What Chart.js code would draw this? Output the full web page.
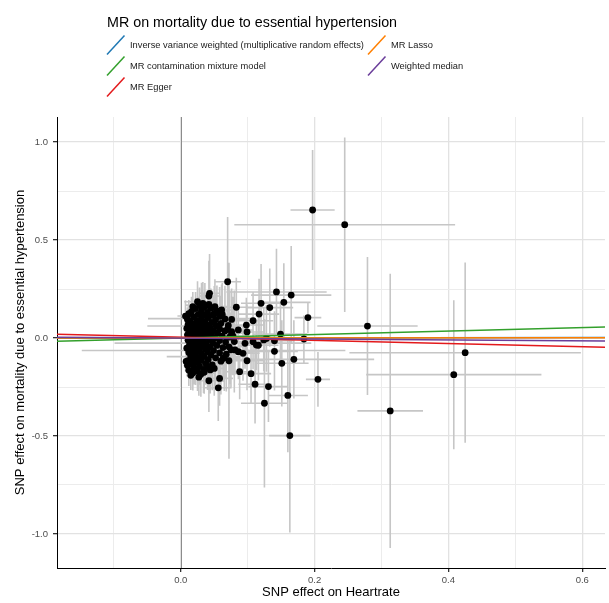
<!DOCTYPE html>
<html>
<head>
<meta charset="utf-8">
<title>MR on mortality due to essential hypertension</title>
<script src="https://cdn.jsdelivr.net/npm/chart.js@4.4.1/dist/chart.umd.min.js"></script>
<style>
  html, body { margin: 0; padding: 0; background: #ffffff; }
  canvas { display: block; }
</style>
</head>
<body>
<canvas id="mrScatter" width="609" height="603"></canvas>
<script>
// Per-SNP effects on the exposure (heart rate) and on the outcome, with standard errors
const snpBx = [
  0.033, 0.028, 0.036, 0.045, 0.022, 0.031, 0.054, 0.016, 0.040,
  0.012, 0.026, 0.034, 0.048, 0.058, 0.019, 0.041, 0.031, 0.010, 0.052, 0.066, 0.024,
  0.014, 0.036, 0.046, 0.029, 0.060, 0.020, 0.011, 0.039, 0.053, 0.071, 0.025, 0.033,
  0.016, 0.044, 0.009, 0.028, 0.058, 0.037, 0.021, 0.049, 0.066, 0.013, 0.031, 0.042, 0.076,
  0.024, 0.017, 0.055, 0.035, 0.010, 0.046, 0.028, 0.062, 0.020, 0.039, 0.073, 0.014, 0.051, 0.031,
  0.022, 0.043, 0.011, 0.058, 0.034, 0.027, 0.067, 0.017, 0.048, 0.038, 0.080,
  0.025, 0.013, 0.054, 0.032, 0.044, 0.020, 0.063, 0.009, 0.037, 0.028, 0.072,
  0.017, 0.049, 0.024, 0.040, 0.012, 0.058, 0.031, 0.021, 0.045, 0.068,
  0.015, 0.035, 0.026, 0.052, 0.019, 0.041, 0.030, 0.011, 0.060,
  0.023, 0.037, 0.016, 0.047, 0.028, 0.020, 0.034, 0.025, 0.018, 0.030, 0.012,
  0.010, 0.022, 0.015, 0.027, 0.035, 0.040, 0.050, 0.008, 0.025, 0.042,
  0.018, 0.050, 0.062, 0.070, 0.075, 0.065, 0.078,
  0.197, 0.245, 0.279, 0.313, 0.408, 0.425, 0.163, 0.205, 0.160, 0.125,
  0.131, 0.111, 0.105, 0.088, 0.169, 0.151, 0.140, 0.099, 0.056, 0.042,
  0.058, 0.044, 0.072, 0.093, 0.116, 0.070, 0.043, 0.042, 0.143, 0.165,
  0.154, 0.120, 0.133, 0.083, 0.051, 0.061, 0.117, 0.007, 0.108, 0.190,
  0.076, 0.099, 0.124, 0.140, 0.113, 0.081, 0.063, 0.149, 0.184, 0.108,
  0.128, 0.076, 0.096, 0.086, 0.098, 0.086
];
const snpBy = [
  0.176, 0.168, 0.160, 0.152, 0.150, 0.142, 0.138, 0.135, 0.131,
  0.124, 0.121, 0.118, 0.115, 0.110, 0.108, 0.104, 0.099, 0.095, 0.093, 0.097, 0.090,
  0.085, 0.084, 0.080, 0.077, 0.075, 0.072, 0.068, 0.066, 0.063, 0.064, 0.061, 0.058,
  0.055, 0.053, 0.049, 0.047, 0.046, 0.043, 0.040, 0.038, 0.036, 0.034, 0.031, 0.029, 0.033,
  0.026, 0.022, 0.024, 0.019, 0.016, 0.014, 0.012, 0.010, 0.007, 0.005, 0.004, 0.002, 0.001, -0.002,
  -0.006, -0.008, -0.011, -0.013, -0.015, -0.019, -0.021, -0.024, -0.026, -0.029, -0.018,
  -0.033, -0.036, -0.038, -0.041, -0.044, -0.047, -0.049, -0.052, -0.055, -0.058, -0.045,
  -0.062, -0.064, -0.068, -0.071, -0.074, -0.076, -0.079, -0.084, -0.087, -0.083,
  -0.093, -0.095, -0.099, -0.101, -0.106, -0.110, -0.114, -0.116, -0.118,
  -0.124, -0.129, -0.134, -0.137, -0.143, -0.152, -0.160, -0.170, -0.178, -0.185, -0.165,
  -0.140, -0.160, -0.190, -0.200, -0.175, -0.145, -0.155, -0.120, 0.185, 0.172,
  0.160, 0.125, 0.120, 0.045, -0.060, -0.100, 0.010,
  0.653, 0.578, 0.061, -0.372, -0.187, -0.075, -0.498, -0.211, -0.293, -0.333,
  -0.248, -0.236, -0.182, -0.172, -0.109, -0.129, -0.068, -0.116, -0.254, -0.218,
  -0.206, -0.163, -0.116, -0.078, -0.037, 0.287, 0.228, 0.214, 0.235, 0.219,
  0.182, 0.177, 0.155, 0.157, 0.160, 0.143, 0.122, 0.112, 0.088, 0.104,
  0.095, 0.031, -0.010, -0.014, -0.036, -0.061, -0.104, 0.020, -0.005, -0.019,
  -0.002, 0.024, -0.027, -0.070, 0.066, 0.041
];
const snpSeBx = [
  0.012, 0.020, 0.010, 0.014, 0.009, 0.011, 0.016, 0.007, 0.012,
  0.006, 0.010, 0.012, 0.015, 0.018, 0.008, 0.013, 0.080, 0.005, 0.016, 0.020, 0.010,
  0.007, 0.012, 0.014, 0.010, 0.018, 0.008, 0.006, 0.013, 0.016, 0.022, 0.075, 0.011,
  0.007, 0.014, 0.005, 0.010, 0.017, 0.012, 0.008, 0.015, 0.020, 0.006, 0.011, 0.013, 0.024,
  0.009, 0.007, 0.016, 0.011, 0.005, 0.014, 0.010, 0.019, 0.008, 0.012, 0.023, 0.006, 0.015, 0.011,
  0.008, 0.013, 0.006, 0.018, 0.011, 0.009, 0.021, 0.007, 0.147, 0.012, 0.025,
  0.009, 0.006, 0.016, 0.011, 0.014, 0.008, 0.019, 0.005, 0.012, 0.010, 0.022,
  0.007, 0.197, 0.009, 0.013, 0.006, 0.018, 0.011, 0.008, 0.014, 0.021,
  0.007, 0.056, 0.010, 0.016, 0.008, 0.013, 0.011, 0.006, 0.019,
  0.009, 0.013, 0.007, 0.015, 0.010, 0.008, 0.012, 0.009, 0.008, 0.011, 0.006,
  0.006, 0.009, 0.007, 0.010, 0.012, 0.013, 0.016, 0.005, 0.020, 0.014,
  0.008, 0.016, 0.019, 0.021, 0.023, 0.020, 0.024,
  0.033, 0.165, 0.075, 0.049, 0.131, 0.173, 0.031, 0.018, 0.030, 0.035,
  0.030, 0.025, 0.030, 0.025, 0.120, 0.040, 0.035, 0.025, 0.020, 0.015,
  0.020, 0.015, 0.020, 0.025, 0.030, 0.020, 0.015, 0.015, 0.075, 0.060,
  0.040, 0.030, 0.035, 0.025, 0.020, 0.020, 0.030, 0.012, 0.030, 0.020,
  0.020, 0.025, 0.030, 0.030, 0.025, 0.020, 0.020, 0.040, 0.030, 0.030,
  0.035, 0.020, 0.025, 0.022, 0.025, 0.022
];
const snpSeBy = [
  0.110, 0.090, 0.120, 0.100, 0.085, 0.140, 0.130, 0.075, 0.095,
  0.070, 0.090, 0.110, 0.100, 0.150, 0.065, 0.120, 0.080, 0.060, 0.130, 0.170, 0.085,
  0.065, 0.095, 0.110, 0.080, 0.140, 0.070, 0.060, 0.100, 0.120, 0.200, 0.085, 0.090,
  0.060, 0.100, 0.055, 0.075, 0.130, 0.090, 0.070, 0.110, 0.160, 0.065, 0.080, 0.100, 0.220,
  0.070, 0.060, 0.130, 0.085, 0.055, 0.110, 0.075, 0.150, 0.065, 0.095, 0.240, 0.060, 0.120, 0.080,
  0.065, 0.100, 0.055, 0.140, 0.085, 0.075, 0.180, 0.060, 0.110, 0.090, 0.260,
  0.075, 0.060, 0.130, 0.085, 0.105, 0.070, 0.160, 0.055, 0.095, 0.080, 0.210,
  0.065, 0.120, 0.075, 0.100, 0.060, 0.150, 0.085, 0.070, 0.115, 0.190,
  0.070, 0.095, 0.080, 0.140, 0.075, 0.120, 0.090, 0.065, 0.170,
  0.085, 0.110, 0.075, 0.130, 0.095, 0.085, 0.120, 0.100, 0.090, 0.115, 0.080,
  0.060, 0.080, 0.075, 0.095, 0.110, 0.120, 0.140, 0.055, 0.105, 0.125,
  0.075, 0.140, 0.160, 0.170, 0.190, 0.170, 0.200,
  0.306, 0.445, 0.352, 0.700, 0.380, 0.460, 0.495, 0.140, 0.290, 0.430,
  0.180, 0.200, 0.150, 0.140, 0.200, 0.220, 0.200, 0.150, 0.170, 0.160,
  0.140, 0.120, 0.500, 0.140, 0.180, 0.330, 0.200, 0.180, 0.220, 0.250,
  0.200, 0.200, 0.200, 0.150, 0.140, 0.130, 0.180, 0.080, 0.150, 0.080,
  0.120, 0.140, 0.160, 0.150, 0.130, 0.120, 0.120, 0.160, 0.120, 0.140,
  0.170, 0.110, 0.130, 0.140, 0.140, 0.120
];

// MR method estimates (slope = causal estimate, intercept only for MR Egger)
const methodNames = [
  'Inverse variance weighted (multiplicative random effects)',
  'MR contamination mixture model',
  'MR Egger',
  'MR Lasso',
  'Weighted median'
];
const methodColors = ['#1f78b4', '#33a02c', '#e31a1c', '#ff7f00', '#6a3d9a'];
const methodSlopes = [0.005, 0.088, -0.081, 0.002, -0.024];
const methodIntercepts = [0, 0, 0.004, 0, 0];

// Axes
const xRange = [-0.185, 0.634];
const yRange = [-1.1735, 1.1276];
const xTickValues = [-0.1, 0, 0.1, 0.2, 0.3, 0.4, 0.5, 0.6];
const xTickLabels = ['', '0.0', '', '0.2', '', '0.4', '', '0.6'];
const yTickValues = [-1, -0.75, -0.5, -0.25, 0, 0.25, 0.5, 0.75, 1];
const yTickLabels = ['-1.0', '', '-0.5', '', '0.0', '', '0.5', '', '1.0'];

const chartTitle = 'MR on mortality due to essential hypertension';
const xTitle = 'SNP effect on Heartrate';
const yTitle = 'SNP effect on mortality due to essential hypertension';

const FONT = '"Liberation Sans", Arial, Helvetica, sans-serif';

// Reference line at zero exposure effect and +/- 1 SE error bars, under the points
const errorBarPlugin = {
  id: 'errorBars',
  beforeDatasetsDraw(chart) {
    const { ctx, chartArea: a, scales: { x, y } } = chart;
    ctx.save();
    ctx.beginPath();
    ctx.rect(a.left, a.top, a.right - a.left, a.bottom - a.top);
    ctx.clip();

    const x0 = Math.round(x.getPixelForValue(0)) + 0.5;
    ctx.strokeStyle = '#8c8c8c';
    ctx.lineWidth = 1;
    ctx.beginPath();
    ctx.moveTo(x0, a.top);
    ctx.lineTo(x0, a.bottom);
    ctx.stroke();

    ctx.strokeStyle = '#c6c6c6';
    ctx.lineWidth = 1.6;
    ctx.beginPath();
    for (let i = 0; i < snpBx.length; i++) {
      const px = x.getPixelForValue(snpBx[i]);
      const py = y.getPixelForValue(snpBy[i]);
      ctx.moveTo(px, y.getPixelForValue(snpBy[i] - snpSeBy[i]));
      ctx.lineTo(px, y.getPixelForValue(snpBy[i] + snpSeBy[i]));
      ctx.moveTo(x.getPixelForValue(snpBx[i] - snpSeBx[i]), py);
      ctx.lineTo(x.getPixelForValue(snpBx[i] + snpSeBx[i]), py);
    }
    ctx.stroke();
    ctx.restore();
  }
};

// Title and two-column method legend with diagonal line keys
const headerPlugin = {
  id: 'header',
  afterDraw(chart) {
    const ctx = chart.ctx;
    ctx.save();
    ctx.fillStyle = '#000000';
    ctx.textAlign = 'left';
    ctx.textBaseline = 'alphabetic';
    ctx.font = '14.3px ' + FONT;
    ctx.fillText(chartTitle, 107, 27);

    const keyX = [107, 368];
    const textX = [130, 391];
    ctx.font = '9.3px ' + FONT;
    ctx.textBaseline = 'middle';
    methodNames.forEach((name, i) => {
      const col = i < 3 ? 0 : 1;
      const row = i < 3 ? i : i - 3;
      const cy = 45 + row * 21;
      ctx.strokeStyle = methodColors[i];
      ctx.lineWidth = 1.5;
      ctx.beginPath();
      ctx.moveTo(keyX[col], cy + 9.5);
      ctx.lineTo(keyX[col] + 17.5, cy - 9.5);
      ctx.stroke();
      ctx.fillStyle = '#1a1a1a';
      ctx.fillText(name, textX[col], cy);
    });
    ctx.restore();
  }
};

const methodDatasets = methodNames.map((name, i) => ({
  type: 'line',
  label: name,
  data: xRange.map(xv => ({ x: xv, y: methodIntercepts[i] + methodSlopes[i] * xv })),
  borderColor: methodColors[i],
  backgroundColor: methodColors[i],
  borderWidth: 1.5,
  pointRadius: 0,
  fill: false,
  tension: 0,
  order: methodNames.length - i
}));

const snpDataset = {
  type: 'scatter',
  label: 'SNPs',
  data: snpBx.map((bx, i) => ({ x: bx, y: snpBy[i] })),
  backgroundColor: '#000000',
  borderColor: '#000000',
  borderWidth: 0,
  pointRadius: 3.4,
  order: 10
};

new Chart(document.getElementById('mrScatter'), {
  type: 'scatter',
  data: { datasets: [...methodDatasets, snpDataset] },
  options: {
    responsive: false,
    animation: false,
    devicePixelRatio: 1,
    layout: { padding: { top: 117, right: 3, left: 0, bottom: 0 } },
    plugins: { legend: { display: false }, tooltip: { enabled: false }, title: { display: false } },
    scales: {
      x: {
        type: 'linear',
        min: xRange[0],
        max: xRange[1],
        afterBuildTicks: s => { s.ticks = xTickValues.map(v => ({ value: v })); },
        afterFit: s => { s.height = 35; },
        ticks: {
          autoSkip: false,
          maxRotation: 0,
          includeBounds: false,
          padding: 3,
          color: '#4d4d4d',
          font: { family: FONT, size: 9.5 },
          callback: (v, i) => xTickLabels[i]
        },
        grid: {
          color: c => (xTickLabels[c.index] ? '#e2e2e2' : '#ececec'),
          lineWidth: c => (xTickLabels[c.index] ? 1.3 : 1),
          tickLength: 4,
          tickColor: c => (xTickLabels[c.index] ? '#333333' : 'rgba(0,0,0,0)')
        },
        border: { display: true, color: '#000000', width: 1 },
        title: {
          display: true,
          text: xTitle,
          color: '#000000',
          font: { family: FONT, size: 13 },
          padding: { top: 0, bottom: 3 }
        }
      },
      y: {
        type: 'linear',
        min: yRange[0],
        max: yRange[1],
        afterBuildTicks: s => { s.ticks = yTickValues.map(v => ({ value: v })); },
        afterFit: s => { s.width = 57; },
        ticks: {
          autoSkip: false,
          includeBounds: false,
          padding: 5,
          color: '#4d4d4d',
          font: { family: FONT, size: 9.5 },
          callback: (v, i) => yTickLabels[i]
        },
        grid: {
          color: c => (yTickLabels[c.index] ? '#e2e2e2' : '#ececec'),
          lineWidth: c => (yTickLabels[c.index] ? 1.3 : 1),
          tickLength: 4,
          tickColor: c => (yTickLabels[c.index] ? '#333333' : 'rgba(0,0,0,0)')
        },
        border: { display: true, color: '#000000', width: 1 },
        title: {
          display: true,
          text: yTitle,
          color: '#000000',
          font: { family: FONT, size: 13 },
          padding: { top: 13, bottom: 0 }
        }
      }
    }
  },
  plugins: [errorBarPlugin, headerPlugin]
});
</script>
</body>
</html>
